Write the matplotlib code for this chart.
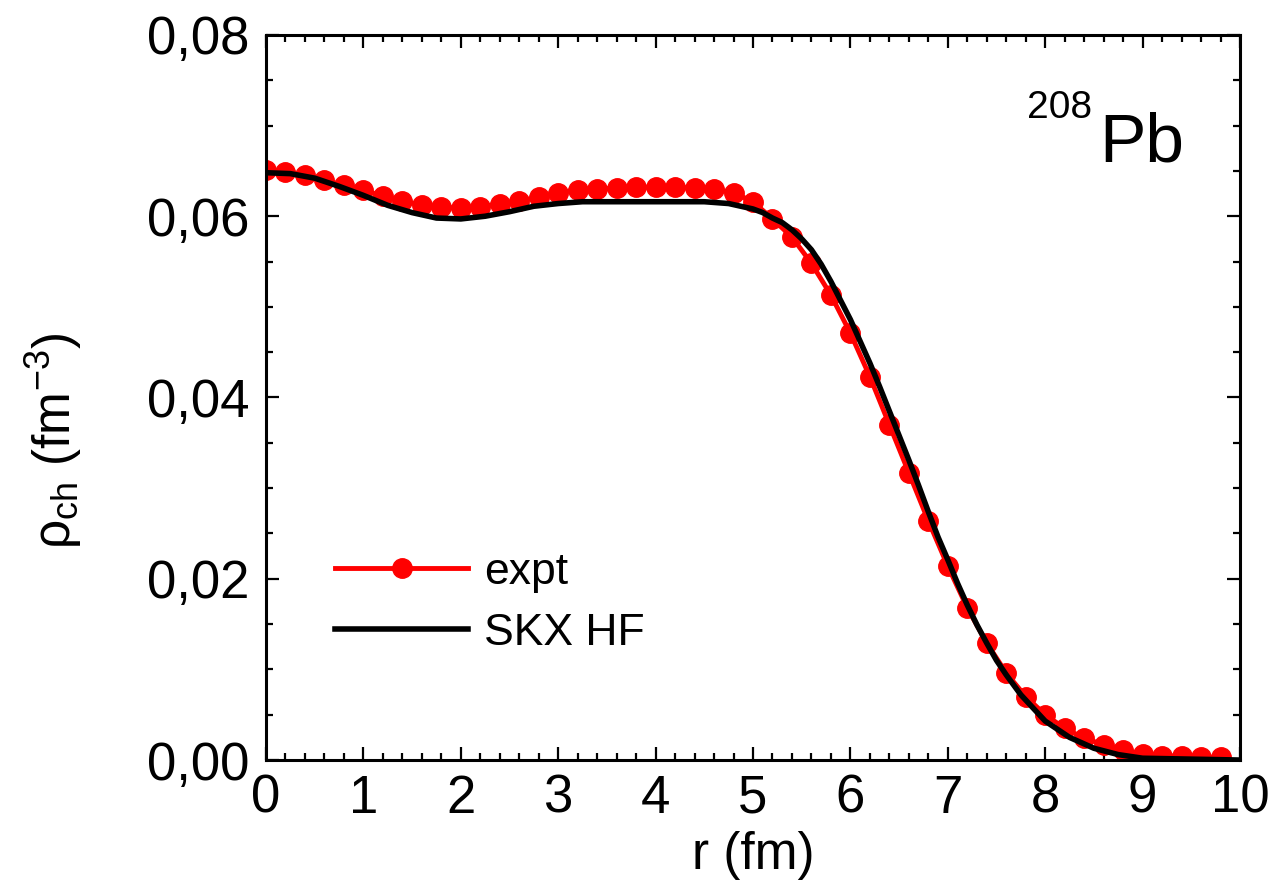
# -*- coding: utf-8 -*-
"""
Зарядовая плотность 208Pb: эксперимент и расчёт SKX HF.
"""

import matplotlib
matplotlib.use('Agg')
import matplotlib.pyplot as plt

plt.rcParams['font.family'] = ['Liberation Sans', 'DejaVu Sans']
plt.rcParams['mathtext.fontset'] = 'custom'
plt.rcParams['mathtext.rm'] = 'Liberation Sans'
plt.rcParams['mathtext.it'] = 'Liberation Sans:italic'

# эксперимент (точки через 0.2 фм)
R_EXPT = [0.0, 0.2, 0.4, 0.6, 0.8, 1.0, 1.2, 1.4, 1.6, 1.8,
          2.0, 2.2, 2.4, 2.6, 2.8, 3.0, 3.2, 3.4, 3.6, 3.8,
          4.0, 4.2, 4.4, 4.6, 4.8, 5.0, 5.2, 5.4, 5.6, 5.8,
          6.0, 6.2, 6.4, 6.6, 6.8, 7.0, 7.2, 7.4, 7.6, 7.8,
          8.0, 8.2, 8.4, 8.6, 8.8, 9.0, 9.2, 9.4, 9.6, 9.8]
RHO_EXPT = [0.0651, 0.0649, 0.0646, 0.0640, 0.0634, 0.0629, 0.0622, 0.0617, 0.0612, 0.0610,
            0.0609, 0.0610, 0.0614, 0.0617, 0.0621, 0.0626, 0.0629, 0.0630, 0.0631, 0.0632,
            0.0632, 0.0632, 0.0631, 0.0630, 0.0626, 0.0616, 0.0597, 0.0577, 0.0548, 0.0513,
            0.0471, 0.0423, 0.0370, 0.0317, 0.0264, 0.0214, 0.0168, 0.0129, 0.0096, 0.0070,
            0.0050, 0.0035, 0.0024, 0.0017, 0.0011, 0.0007, 0.0005, 0.0004, 0.0003, 0.0003]

# расчёт SKX HF
R_HF = [0.0, 0.25, 0.5, 0.75, 1.0, 1.25, 1.5, 1.75, 2.0, 2.25,
        2.5, 2.75, 3.0, 3.25, 3.5, 4.0, 4.5, 4.75, 5.0, 5.1,
        5.2, 5.3, 5.4, 5.5, 5.6, 5.7, 5.8, 5.9, 6.0, 6.1,
        6.2, 6.3, 6.4, 6.5, 6.6, 6.7, 6.8, 6.9, 7.0, 7.1,
        7.2, 7.3, 7.4, 7.5, 7.6, 7.75, 8.0, 8.25, 8.5, 8.75,
        9.0, 9.5, 10.0]
RHO_HF = [0.0648, 0.0647, 0.0642, 0.0633, 0.0623, 0.0612, 0.0604, 0.0598, 0.0597, 0.0600,
          0.0605, 0.0611, 0.0614, 0.0616, 0.0616, 0.0616, 0.0616, 0.0614, 0.0608, 0.0604,
          0.0598, 0.0593, 0.0585, 0.0575, 0.0563, 0.0547, 0.0528, 0.0507, 0.0486, 0.0462,
          0.0438, 0.0412, 0.0385, 0.0358, 0.0331, 0.0303, 0.0274, 0.0246, 0.0221, 0.0195,
          0.0171, 0.0149, 0.0129, 0.0110, 0.0094, 0.0072, 0.0043, 0.0025, 0.0013, 0.0006,
          0.0002, 0.0001, 0.0000]

X_TICKS = [0, 1, 2, 3, 4, 5, 6, 7, 8, 9, 10]
Y_TICKS = [0.00, 0.02, 0.04, 0.06, 0.08]


def main():
    fig = plt.figure(figsize=(12.74, 8.85), dpi=100)
    ax = fig.add_axes([0.2088, 0.1412, 0.7645, 0.8193])

    ax.plot(R_EXPT, RHO_EXPT, color='red', lw=3.5, marker='o', ms=14,
            label='expt')
    ax.plot(R_HF, RHO_HF, color='black', lw=4, label='SKX HF')

    ax.set_xlim(0, 10)
    ax.set_ylim(0, 0.08)
    ax.set_xticks(X_TICKS)
    ax.set_xticklabels([str(t) for t in X_TICKS])
    ax.set_yticks(Y_TICKS)
    ax.set_yticklabels([f'{t:.2f}'.replace('.', ',') for t in Y_TICKS])
    ax.set_xticks([i * 0.2 for i in range(51)], minor=True)
    ax.set_yticks([i * 0.005 for i in range(17)], minor=True)

    ax.tick_params(which='both', direction='in', top=True, right=True,
                   width=1.6, labelsize=38)
    ax.tick_params(which='major', length=9.5)
    ax.tick_params(which='minor', length=5)
    ax.tick_params(axis='x', which='major', pad=10)
    ax.tick_params(axis='y', which='major', pad=12)
    for s in ax.spines.values():
        s.set_linewidth(2.2)

    ax.set_xlabel('r (fm)', fontsize=37, labelpad=5)
    ax.set_ylabel('ρ$_{\\mathrm{ch}}$ (fm$^{\\mathrm{-3}}$)', fontsize=37)
    ax.yaxis.set_label_coords(-0.187, 0.44)

    # подпись ядра
    ax.text(0.848, 0.886, '208', transform=ax.transAxes, fontsize=28,
            ha='right', va='baseline')
    ax.text(0.855, 0.825, 'Pb', transform=ax.transAxes, fontsize=50,
            ha='left', va='baseline')

    ax.legend(loc='upper left', bbox_to_anchor=(0.071, 0.287), frameon=False,
              fontsize=32, handlelength=3.0, handletextpad=0.35,
              labelspacing=0.45, borderpad=0, borderaxespad=0, numpoints=1)

    fig.savefig('out.png', dpi=100)


if __name__ == "__main__":
    main()
